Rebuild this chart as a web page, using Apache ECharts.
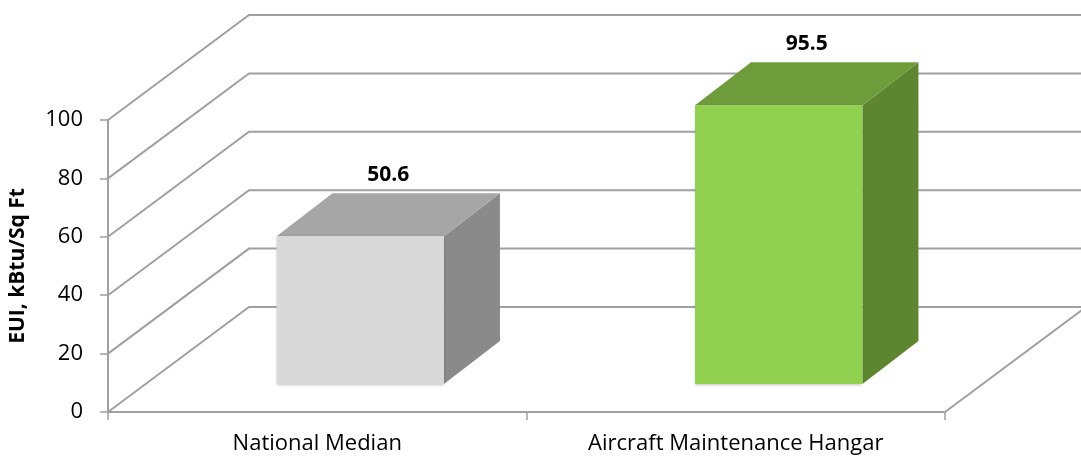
<!DOCTYPE html>
<html>
<head>
<meta charset="utf-8">
<script src="https://cdn.jsdelivr.net/npm/echarts@6/dist/echarts.min.js"></script>
<style>
html,body{margin:0;padding:0;background:#fff;}
#chart{width:1081px;height:461px;}
</style>
</head>
<body>
<div id="chart"></div>
<script>
const categories = ['National Median', 'Aircraft Maintenance Hangar'];
const values = [50.6, 95.5];
const yTicks = [0, 20, 40, 60, 80, 100];

const FONT = '"Open Sans", "Noto Sans", sans-serif';
// 3D projection constants (pixels)
const WALL_DX = 141, WALL_DY = -105;   // depth of the whole plot box
const BAR_FX = 43, BAR_FY = -28;       // front face offset of bars
const BAR_DX = 56, BAR_DY = -43;       // bar depth
const GRID_COLOR = '#a0a0a0';
const barColors = [
  { front: '#d9d9d9', top: '#a6a6a6', side: '#8a8a8a' },
  { front: '#92d050', top: '#6f9c3b', side: '#5e8631' }
];

const chart = echarts.init(document.getElementById('chart'), null, { renderer: 'canvas' });

const option = {
  animation: false,
  backgroundColor: '#ffffff',
  grid: { left: 108, right: 136, top: 120, bottom: 49, containLabel: false },
  xAxis: {
    type: 'category',
    data: categories,
    axisLine: { show: true, lineStyle: { color: GRID_COLOR, width: 2 } },
    axisTick: { show: true, length: 8, alignWithLabel: false, lineStyle: { color: GRID_COLOR, width: 1.5 } },
    axisLabel: { color: '#000', fontFamily: FONT, fontSize: 22, margin: 21 },
    splitLine: { show: false }
  },
  yAxis: {
    type: 'value',
    min: 0, max: 100, interval: 20,
    name: 'EUI, kBtu/Sq Ft',
    nameLocation: 'middle',
    nameGap: 79,
    nameRotate: 90,
    nameTextStyle: { color: '#000', fontFamily: FONT, fontSize: 21, fontWeight: 'bold' },
    axisLine: { show: true, lineStyle: { color: GRID_COLOR, width: 2 } },
    axisTick: { show: true, length: 8, lineStyle: { color: GRID_COLOR, width: 1.5 } },
    axisLabel: { color: '#000', fontFamily: FONT, fontSize: 22, margin: 25 },
    splitLine: { show: false }
  },
  series: [
    {
      type: 'custom',
      name: 'walls',
      clip: false,
      silent: true,
      z: 1,
      data: yTicks.map(v => [0, v]),
      renderItem: function (params, api) {
        const cs = params.coordSys;
        const y = api.coord([0, api.value(1)])[1];
        const x0 = cs.x, x1 = cs.x + cs.width;
        const children = [
          { type: 'polyline', shape: { points: [[x0, y], [x0 + WALL_DX, y + WALL_DY], [x1 + WALL_DX + 40, y + WALL_DY]] },
            style: { stroke: GRID_COLOR, lineWidth: 2, fill: null } }
        ];
        if (api.value(1) === 0) {
          children.push({ type: 'line', shape: { x1: x1, y1: y, x2: x1 + WALL_DX, y2: y + WALL_DY },
            style: { stroke: GRID_COLOR, lineWidth: 2 } });
        }
        return { type: 'group', children: children };
      }
    },
    {
      type: 'custom',
      name: 'EUI',
      clip: false,
      z: 3,
      data: values.map((v, i) => [i, v]),
      renderItem: function (params, api) {
        const i = api.value(0), v = api.value(1);
        const top = api.coord([i, v]);
        const base = api.coord([i, 0]);
        const band = api.size([1, 0])[0];
        const bw = band * 0.4;
        const c = barColors[i];
        const xl = top[0] - bw / 2 + BAR_FX, xr = top[0] + bw / 2 + BAR_FX;
        const yt = top[1] + BAR_FY, yb = base[1] + BAR_FY;
        return {
          type: 'group',
          children: [
            { type: 'polygon', shape: { points: [[xr, yt], [xr + BAR_DX, yt + BAR_DY], [xr + BAR_DX, yb + BAR_DY], [xr, yb]] },
              style: { fill: c.side } },
            { type: 'polygon', shape: { points: [[xl, yt], [xl + BAR_DX, yt + BAR_DY], [xr + BAR_DX, yt + BAR_DY], [xr, yt]] },
              style: { fill: c.top } },
            { type: 'rect', shape: { x: xl, y: yt, width: xr - xl, height: yb - yt },
              style: { fill: c.front, shadowBlur: 3, shadowColor: 'rgba(0,0,0,0.25)', shadowOffsetY: 1 } },
            { type: 'text', x: (xl + xr + BAR_DX) / 2, y: yt + BAR_DY - 8,
              style: { text: String(v), fill: '#000', font: 'bold 21px ' + FONT, align: 'center', verticalAlign: 'bottom' } }
          ]
        };
      }
    }
  ]
};
chart.setOption(option);
</script>
</body>
</html>
